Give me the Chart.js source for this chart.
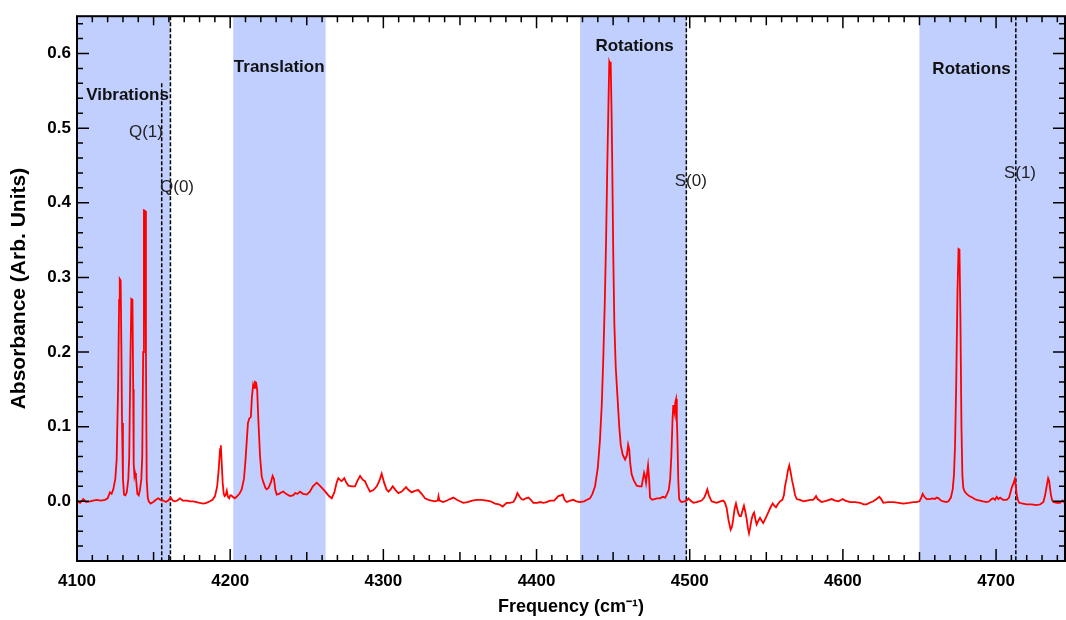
<!DOCTYPE html>
<html>
<head>
<meta charset="utf-8">
<script src="https://cdn.jsdelivr.net/npm/chart.js@4/dist/chart.umd.min.js"></script>
<style>
  html, body { margin: 0; padding: 0; background: #fff; }
  canvas { display: block; }
</style>
</head>
<body>
<canvas id="spectrum" width="1066" height="620"></canvas>
<script>
// spectrum, wavenumber (cm-1) and absorbance
const freqs = [
  4100.0, 4102.0, 4104.1, 4106.0, 4108.5, 4110.5, 4112.8, 4115.5, 4118.3, 4120.0,
  4121.5, 4122.6, 4123.7, 4125.0, 4125.9, 4126.8, 4127.5, 4127.9, 4128.5, 4129.0,
  4129.4, 4130.0, 4130.7, 4131.6, 4132.5, 4133.5, 4134.1, 4134.8, 4135.5, 4136.2,
  4136.7, 4137.0, 4137.5, 4137.9, 4138.5, 4139.4, 4140.3, 4141.1, 4142.0, 4142.6,
  4143.2, 4143.7, 4144.5, 4145.0, 4145.5, 4146.2, 4146.8, 4148.0, 4149.8, 4151.5,
  4153.1, 4154.5, 4156.3, 4158.0, 4159.5, 4161.1, 4162.5, 4164.0, 4165.5, 4167.2,
  4169.0, 4171.6, 4174.0, 4175.9, 4178.0, 4180.0, 4182.5, 4184.5, 4186.8, 4188.5,
  4190.1, 4191.5, 4192.4, 4193.4, 4193.9, 4194.5, 4195.1, 4195.8, 4196.4, 4197.2,
  4197.8, 4198.5, 4199.4, 4200.0, 4200.8, 4201.6, 4203.0, 4204.2, 4206.0, 4207.5,
  4209.0, 4210.0, 4210.8, 4211.6, 4212.5, 4213.5, 4214.2, 4215.0, 4215.6, 4216.2,
  4216.9, 4217.6, 4218.4, 4219.5, 4220.6, 4221.6, 4223.0, 4223.8, 4225.0, 4226.5,
  4227.7, 4228.6, 4229.5, 4230.4, 4232.0, 4233.5, 4234.7, 4236.5, 4239.0, 4241.0,
  4242.5, 4244.0, 4245.6, 4247.5, 4250.0, 4252.0, 4254.0, 4256.5, 4258.5, 4260.8,
  4262.5, 4264.5, 4266.3, 4268.0, 4269.5, 4270.6, 4272.0, 4272.8, 4274.5, 4275.8,
  4277.2, 4279.5, 4281.5, 4283.0, 4284.8, 4286.5, 4288.0, 4289.5, 4291.3, 4293.5,
  4295.7, 4297.5, 4298.9, 4300.5, 4302.0, 4303.3, 4304.8, 4306.1, 4308.0, 4309.8,
  4312.0, 4314.8, 4316.5, 4318.5, 4320.5, 4322.8, 4325.0, 4327.2, 4329.5, 4331.5,
  4333.7, 4335.5, 4336.0, 4336.6, 4339.1, 4341.5, 4343.5, 4345.7, 4348.0, 4350.0,
  4352.2, 4355.0, 4358.0, 4361.0, 4364.0, 4367.5, 4370.0, 4372.9, 4375.5, 4377.9,
  4380.5, 4382.5, 4384.9, 4386.3, 4387.5, 4389.0, 4390.2, 4391.4, 4393.0, 4394.7,
  4396.3, 4397.9, 4400.5, 4402.5, 4404.4, 4406.5, 4408.8, 4411.5, 4414.2, 4416.0,
  4417.1, 4418.3, 4419.7, 4422.0, 4424.0, 4426.0, 4428.4, 4431.0, 4433.0, 4434.9,
  4436.5, 4438.2, 4440.0, 4441.4, 4442.6, 4443.6, 4444.6, 4445.4, 4446.2, 4446.9,
  4447.5, 4448.0, 4448.4, 4449.0, 4449.5, 4450.1, 4450.8, 4451.7, 4452.7, 4454.0,
  4455.0, 4456.3, 4457.8, 4459.0, 4459.8, 4460.5, 4461.2, 4462.1, 4463.5, 4465.4,
  4467.0, 4468.6, 4469.5, 4470.2, 4471.0, 4471.5, 4472.2, 4472.8, 4473.5, 4474.1,
  4475.5, 4477.0, 4478.5, 4480.5, 4482.5, 4484.0, 4485.0, 4486.3, 4487.2, 4488.0,
  4488.8, 4489.3, 4489.8, 4490.2, 4490.6, 4491.1, 4491.6, 4492.0, 4492.5, 4493.1,
  4494.0, 4494.8, 4496.5, 4498.0, 4499.2, 4500.5, 4502.4, 4504.5, 4506.0, 4507.8,
  4509.5, 4510.5, 4511.5, 4512.5, 4514.3, 4516.0, 4517.6, 4520.0, 4521.9, 4523.0,
  4524.1, 4525.3, 4526.7, 4527.6, 4528.4, 4529.3, 4530.2, 4531.0, 4531.7, 4532.6,
  4533.5, 4534.5, 4535.4, 4536.3, 4537.2, 4538.0, 4538.7, 4539.5, 4540.4, 4541.2,
  4542.0, 4543.0, 4543.7, 4544.8, 4545.9, 4547.0, 4548.0, 4549.5, 4551.3, 4552.8,
  4554.2, 4555.2, 4556.3, 4557.5, 4559.0, 4560.5, 4561.5, 4562.2, 4563.2, 4564.2,
  4565.0, 4565.8, 4566.8, 4567.7, 4568.8, 4569.9, 4572.0, 4574.2, 4576.5, 4578.6,
  4580.5, 4581.5, 4582.5, 4583.5, 4586.2, 4589.5, 4592.7, 4595.0, 4597.1, 4599.0,
  4599.9, 4601.5, 4604.7, 4608.0, 4611.2, 4613.5, 4615.5, 4617.5, 4619.9, 4622.0,
  4623.8, 4625.0, 4626.4, 4629.5, 4633.0, 4636.5, 4639.5, 4643.0, 4646.0, 4648.0,
  4650.0, 4651.2, 4652.1, 4653.2, 4654.7, 4656.5, 4658.5, 4660.0, 4661.2, 4662.5,
  4664.0, 4665.6, 4667.5, 4668.9, 4670.5, 4671.7, 4672.5, 4673.2, 4674.0, 4674.8,
  4675.5, 4676.1, 4676.7, 4677.4, 4678.0, 4678.6, 4679.5, 4680.8, 4682.5, 4684.5,
  4686.0, 4687.3, 4689.5, 4691.5, 4693.9, 4695.5, 4697.0, 4698.2, 4699.3, 4700.4,
  4701.5, 4702.6, 4704.5, 4706.9, 4708.5, 4710.2, 4711.5, 4712.3, 4712.9, 4713.4,
  4714.2, 4715.1, 4717.5, 4720.0, 4723.0, 4726.5, 4729.0, 4730.9, 4732.0, 4733.0,
  4734.0, 4734.6, 4735.7, 4736.5, 4737.3, 4739.5, 4741.7, 4743.5, 4745.0
];
const absorbance = [
  0.000, -0.002, 0.003, -0.001, 0.000, 0.001, 0.002, 0.001, 0.002, 0.004,
  0.012, 0.010, 0.016, 0.030, 0.056, 0.149, 0.270, 0.298, 0.296, 0.200,
  0.105, 0.030, 0.009, 0.008, 0.012, 0.030, 0.060, 0.180, 0.271, 0.270,
  0.150, 0.051, 0.034, 0.038, 0.032, 0.010, 0.008, 0.015, 0.030, 0.060,
  0.200, 0.390, 0.389, 0.200, 0.029, 0.005, 0.000, -0.003, -0.001, 0.002,
  0.004, 0.002, 0.001, -0.001, 0.001, 0.005, 0.001, 0.000, 0.001, 0.004,
  0.001, 0.001, 0.000, 0.000, -0.001, -0.002, -0.003, -0.002, 0.000, 0.002,
  0.007, 0.020, 0.040, 0.070, 0.075, 0.050, 0.025, 0.010, 0.007, 0.009,
  0.014, 0.006, 0.004, 0.008, 0.008, 0.006, 0.004, 0.006, 0.010, 0.016,
  0.030, 0.055, 0.080, 0.105, 0.111, 0.113, 0.140, 0.156, 0.152, 0.160,
  0.159, 0.150, 0.109, 0.060, 0.033, 0.026, 0.018, 0.016, 0.018, 0.025,
  0.034, 0.030, 0.015, 0.009, 0.010, 0.012, 0.013, 0.010, 0.007, 0.008,
  0.011, 0.010, 0.013, 0.010, 0.009, 0.013, 0.020, 0.025, 0.021, 0.016,
  0.012, 0.007, 0.004, 0.012, 0.025, 0.031, 0.028, 0.027, 0.031, 0.025,
  0.021, 0.020, 0.020, 0.027, 0.034, 0.029, 0.027, 0.020, 0.013, 0.015,
  0.020, 0.028, 0.037, 0.025, 0.016, 0.013, 0.016, 0.020, 0.015, 0.011,
  0.013, 0.019, 0.015, 0.012, 0.014, 0.015, 0.010, 0.004, 0.002, 0.001,
  0.000, 0.001, 0.007, 0.001, -0.001, 0.001, 0.003, 0.005, 0.002, 0.000,
  -0.002, -0.001, 0.001, 0.002, 0.002, 0.001, 0.000, -0.003, -0.004, -0.007,
  -0.002, -0.002, -0.001, 0.004, 0.011, 0.006, 0.003, 0.002, 0.004, 0.005,
  0.002, -0.002, -0.002, -0.001, -0.002, -0.001, 0.001, 0.001, 0.007, 0.008,
  0.009, 0.002, -0.001, 0.001, 0.002, 0.000, -0.001, 0.000, 0.002, 0.004,
  0.010, 0.020, 0.045, 0.082, 0.130, 0.193, 0.270, 0.349, 0.450, 0.527,
  0.589, 0.586, 0.589, 0.520, 0.438, 0.330, 0.238, 0.180, 0.145, 0.100,
  0.075, 0.062, 0.056, 0.062, 0.076, 0.070, 0.050, 0.036, 0.028, 0.021,
  0.020, 0.020, 0.030, 0.038, 0.032, 0.025, 0.038, 0.048, 0.030, 0.005,
  0.002, 0.003, 0.004, 0.004, 0.006, 0.005, 0.009, 0.015, 0.029, 0.060,
  0.110, 0.129, 0.122, 0.118, 0.133, 0.137, 0.110, 0.082, 0.030, 0.003,
  0.000, -0.001, 0.000, 0.001, 0.004, 0.001, -0.002, -0.001, 0.000, 0.001,
  0.005, 0.010, 0.016, 0.008, 0.000, -0.001, -0.002, 0.000, 0.001, -0.002,
  -0.009, -0.025, -0.038, -0.034, -0.024, -0.010, -0.003, -0.010, -0.016, -0.020,
  -0.020, -0.012, -0.006, -0.014, -0.024, -0.036, -0.043, -0.035, -0.024, -0.018,
  -0.015, -0.025, -0.031, -0.026, -0.022, -0.026, -0.029, -0.023, -0.015, -0.008,
  -0.003, -0.006, -0.008, -0.004, 0.000, 0.002, 0.008, 0.020, 0.030, 0.042,
  0.048, 0.040, 0.028, 0.020, 0.008, 0.003, 0.002, 0.000, 0.001, 0.002,
  0.002, 0.004, 0.007, 0.003, -0.001, 0.001, 0.003, 0.001, 0.000, 0.002,
  0.003, 0.001, -0.001, -0.001, -0.002, -0.004, -0.004, -0.002, 0.000, 0.003,
  0.006, 0.003, -0.002, -0.001, -0.001, -0.002, -0.003, -0.002, -0.001, -0.001,
  0.000, 0.005, 0.010, 0.006, 0.003, 0.003, 0.004, 0.003, 0.005, 0.004,
  0.001, 0.000, -0.001, 0.000, 0.005, 0.016, 0.035, 0.073, 0.160, 0.280,
  0.338, 0.337, 0.250, 0.100, 0.035, 0.018, 0.013, 0.010, 0.007, 0.005,
  0.003, 0.002, 0.001, 0.000, -0.001, 0.000, 0.003, 0.004, 0.002, 0.006,
  0.003, 0.005, 0.002, 0.002, 0.005, 0.018, 0.025, 0.030, 0.020, 0.010,
  0.002, -0.002, -0.003, -0.004, -0.004, -0.005, -0.004, -0.001, 0.008, 0.020,
  0.031, 0.028, 0.010, 0.002, -0.001, -0.002, -0.002, 0.001, -0.003
];

const xTicks = [4100, 4200, 4300, 4400, 4500, 4600, 4700];
const yTicks = [0.0, 0.1, 0.2, 0.3, 0.4, 0.5, 0.6];

// shaded regions
const bandStarts = [4100, 4202, 4428.4, 4650];
const bandEnds = [4160.9, 4262.3, 4498, 4745];
const bandNames = ['Vibrations', 'Translation', 'Rotations', 'Rotations'];
const bandLabelX = [4133, 4232, 4464, 4684];
const bandLabelY = [0.544, 0.582, 0.609, 0.579];

// transition lines
const lineNames = ['Q(1)', 'Q(0)', 'S(0)', 'S(1)'];
const lineFreqs = [4155.3, 4161.0, 4497.8, 4712.9];
const lineTops = [0.56, 0.65, 0.65, 0.65];
const lineLabelX = [4145, 4165.3, 4500.7, 4715.6];
const lineLabelY = [0.495, 0.421, 0.429, 0.440];

const FONT = '"Liberation Sans", Arial, Helvetica, sans-serif';
Chart.defaults.font.family = FONT;
Chart.defaults.color = '#000';

const decorations = {
  id: 'decorations',
  beforeDatasetsDraw(chart) {
    const {ctx, chartArea: a, scales: {x, y}} = chart;
    ctx.save();
    ctx.fillStyle = '#c0cffd';
    for (let i = 0; i < bandStarts.length; i++) {
      const x0 = Math.max(a.left, x.getPixelForValue(bandStarts[i]));
      const x1 = Math.min(a.right, x.getPixelForValue(bandEnds[i]));
      ctx.fillRect(x0, a.top, x1 - x0, a.bottom - a.top);
    }
    ctx.strokeStyle = '#000';
    ctx.lineWidth = 1.5;
    ctx.setLineDash([4, 2]);
    for (let i = 0; i < lineFreqs.length; i++) {
      const px = x.getPixelForValue(lineFreqs[i]);
      ctx.beginPath();
      ctx.moveTo(px, Math.max(a.top, y.getPixelForValue(lineTops[i])));
      ctx.lineTo(px, a.bottom);
      ctx.stroke();
    }
    ctx.restore();
  },
  afterDatasetsDraw(chart) {
    const {ctx, chartArea: a, scales: {x, y}} = chart;
    ctx.save();
    ctx.textAlign = 'center';
    ctx.textBaseline = 'middle';
    ctx.fillStyle = '#111';
    ctx.font = 'bold 17px ' + FONT;
    bandNames.forEach((t, i) => {
      ctx.fillText(t, x.getPixelForValue(bandLabelX[i]), y.getPixelForValue(bandLabelY[i]));
    });
    ctx.fillStyle = '#222';
    ctx.font = '17px ' + FONT;
    lineNames.forEach((t, i) => {
      ctx.fillText(t, x.getPixelForValue(lineLabelX[i]), y.getPixelForValue(lineLabelY[i]));
    });

    // inward tick marks on all four sides
    ctx.strokeStyle = '#000';
    ctx.lineWidth = 1.5;
    ctx.beginPath();
    for (let f = 4100; f <= 4745; f += 10) {
      const len = f % 100 === 0 ? 12 : (f % 50 === 0 ? 9 : 6);
      const px = x.getPixelForValue(f);
      ctx.moveTo(px, a.bottom); ctx.lineTo(px, a.bottom - len);
      ctx.moveTo(px, a.top); ctx.lineTo(px, a.top + len);
    }
    for (let k = -4; k <= 32; k++) {
      const len = k % 5 === 0 ? 12 : 6;
      const py = y.getPixelForValue(k * 0.02);
      ctx.moveTo(a.left, py); ctx.lineTo(a.left + len, py);
      ctx.moveTo(a.right, py); ctx.lineTo(a.right - len, py);
    }
    ctx.stroke();
    ctx.lineWidth = 2;
    ctx.strokeRect(a.left, a.top, a.right - a.left, a.bottom - a.top);
    ctx.restore();
  }
};

new Chart(document.getElementById('spectrum'), {
  type: 'line',
  data: {
    datasets: [{
      data: freqs.map((f, i) => ({x: f, y: absorbance[i]})),
      borderColor: '#ff0000',
      borderWidth: 1.8,
      pointRadius: 0,
      tension: 0
    }]
  },
  options: {
    responsive: false,
    animation: false,
    layout: { padding: { top: 15, right: 1, left: 0, bottom: 0 } },
    plugins: { legend: { display: false }, tooltip: { enabled: false } },
    scales: {
      x: {
        type: 'linear',
        min: 4100,
        max: 4745,
        afterFit: s => { s.height = 59; },
        afterBuildTicks: s => { s.ticks = xTicks.map(v => ({value: v})); },
        grid: { display: false, drawTicks: false },
        border: { display: false },
        ticks: { font: { size: 17, weight: 'bold' }, padding: 10, maxRotation: 0, callback: v => String(v) },
        title: { display: true, text: 'Frequency (cm⁻¹)', font: { size: 18, weight: 'bold' }, padding: { top: 0, bottom: 2 } }
      },
      y: {
        min: -0.08,
        max: 0.65,
        afterFit: s => { s.width = 77; },
        afterBuildTicks: s => { s.ticks = yTicks.map(v => ({value: v})); },
        grid: { display: false, drawTicks: false },
        border: { display: false },
        ticks: { font: { size: 17, weight: 'bold' }, padding: 6, callback: v => v.toFixed(1) },
        title: { display: true, text: 'Absorbance (Arb. Units)', font: { size: 21, weight: 'bold' }, padding: { top: 7, bottom: 0 } }
      }
    }
  },
  plugins: [decorations]
});
</script>
</body>
</html>
